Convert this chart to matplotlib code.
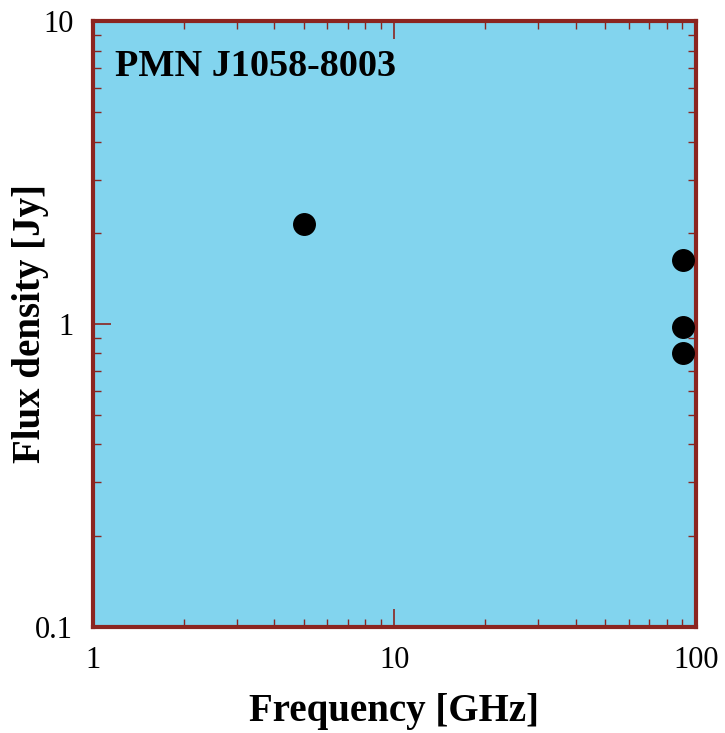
import numpy as np
import matplotlib.pyplot as plt
from matplotlib.ticker import LogLocator, NullFormatter, FixedLocator, FixedFormatter

plt.rcParams['font.family'] = ['Liberation Serif', 'DejaVu Serif']

KAYNAK = 'PMN J1058-8003'
frekans = [5.0, 90.5, 90.5, 90.5]   # GHz
aki = [2.14, 1.63, 0.98, 0.80]      # Jy

SPINE_RENK = '#8b2520'
ARKA_RENK = '#82d4ee'

fig = plt.figure(figsize=(7.25, 7.33), dpi=100)
ax = fig.add_axes([0.128, 0.145, 0.832, 0.826])
ax.set_facecolor(ARKA_RENK)

ax.plot(frekans, aki, 'o', color='black', markersize=15.5, zorder=3)

ax.set_xscale('log')
ax.set_yscale('log')
ax.set_xlim(1, 100)
ax.set_ylim(0.1, 10)

ax.xaxis.set_major_locator(FixedLocator([1, 10, 100]))
ax.xaxis.set_major_formatter(FixedFormatter(['1', '10', '100']))
ax.yaxis.set_major_locator(FixedLocator([0.1, 1, 10]))
ax.yaxis.set_major_formatter(FixedFormatter(['0.1', '1', '10']))
for eksen in (ax.xaxis, ax.yaxis):
    eksen.set_minor_locator(LogLocator(base=10, subs=np.arange(2, 10), numticks=20))
    eksen.set_minor_formatter(NullFormatter())

ax.tick_params(which='both', direction='in', top=True, right=True, color=SPINE_RENK)
ax.tick_params(which='major', length=13, width=1.2, labelsize=22, pad=14)
ax.tick_params(which='minor', length=6, width=1.0)

for s in ax.spines.values():
    s.set_color(SPINE_RENK)
    s.set_linewidth(3)

ax.set_xlabel('Frequency [GHz]', fontsize=28, fontweight='bold', labelpad=13)
ax.set_ylabel('Flux density [Jy]', fontsize=28, fontweight='bold')
ax.yaxis.set_label_coords(-0.072, 0.5)

ax.text(0.036, 0.909, KAYNAK, transform=ax.transAxes, fontsize=27.5,
        fontweight='bold', ha='left', va='baseline')

plt.savefig('out.png', dpi=100)
